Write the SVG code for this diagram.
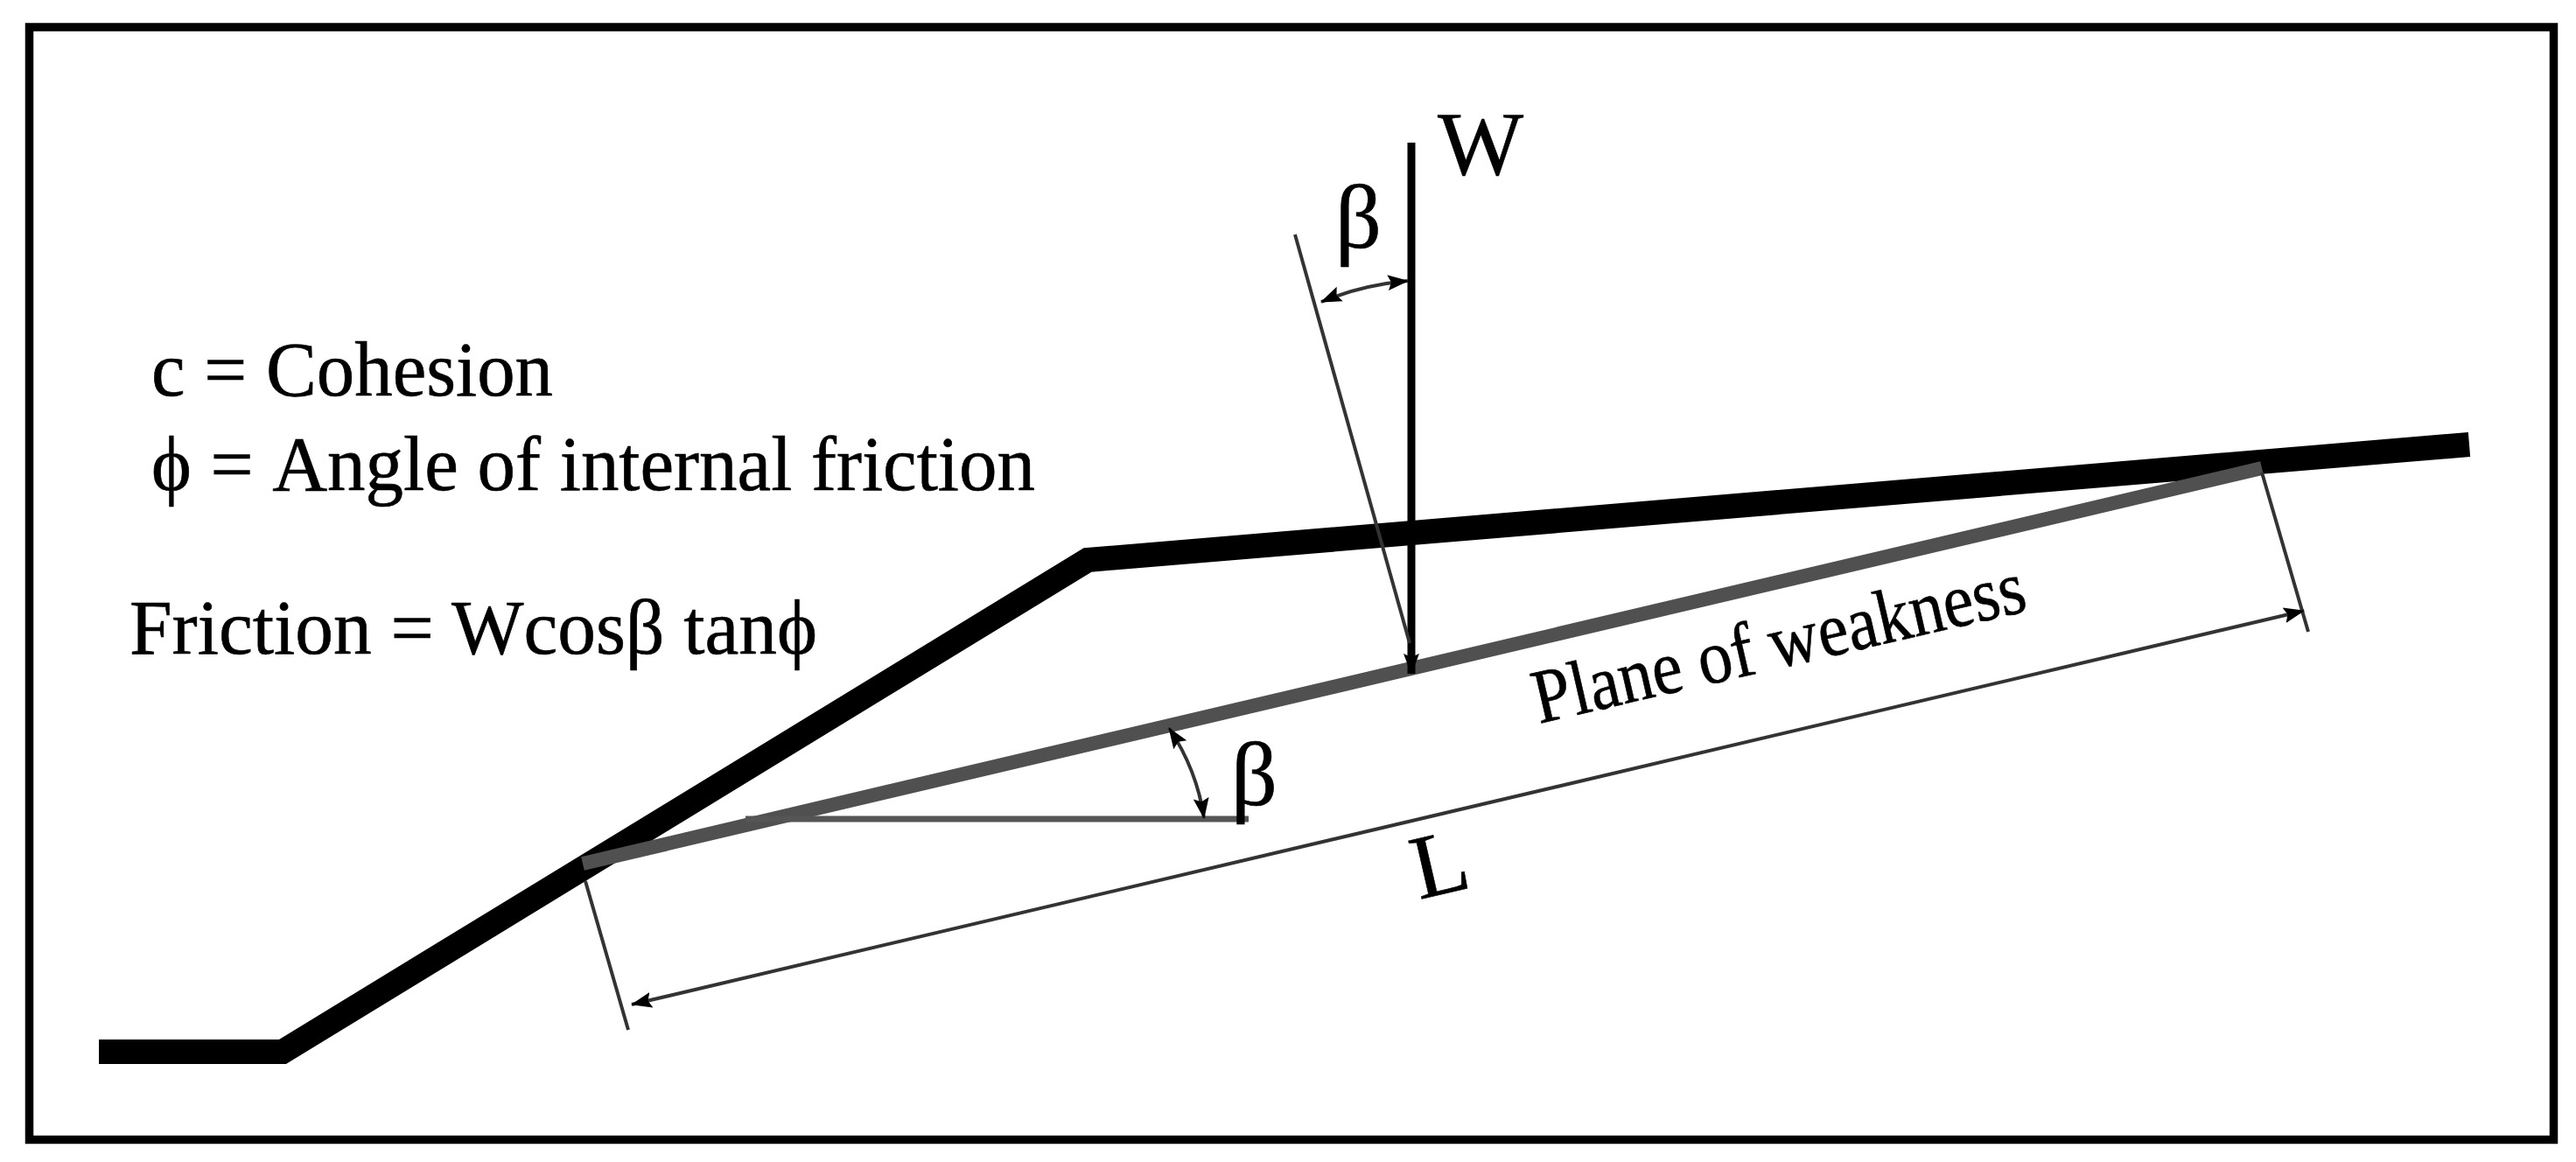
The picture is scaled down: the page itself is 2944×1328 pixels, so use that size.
<svg xmlns="http://www.w3.org/2000/svg" width="2944" height="1328" viewBox="0 0 2944 1328">
<style>
text{font-family:"Liberation Serif","Times New Roman",serif;fill:#000;stroke:#000;stroke-width:.6}
.lbl{font-size:88px}
.big{font-size:104px}
.thin{fill:none;stroke:#333;stroke-width:4}
</style>
<defs>
<marker id="ah" viewBox="0 0 24 20" refX="23" refY="10" markerWidth="24" markerHeight="20" markerUnits="userSpaceOnUse" orient="auto-start-reverse"><path d="M0 1L24 10L0 19L4 10Z" fill="#000"/></marker>
</defs>
<rect id="frame" x="33.5" y="31" width="2885" height="1271.5" fill="#fff" stroke="#000" stroke-width="9.5"/>
<g id="slope"><polyline points="113,1202 323,1202 1243,640 2822,508" fill="none" stroke="#000" stroke-width="28" stroke-linejoin="miter"/></g>
<g id="plane"><line x1="666" y1="987" x2="2585" y2="535" stroke="#505050" stroke-width="16"/></g>
<g id="connectors">
<line x1="852" y1="936" x2="1427" y2="936" stroke="#555" stroke-width="7"/>
<line x1="1613" y1="163" x2="1613" y2="770" stroke="#000" stroke-width="9" marker-end="url(#ah)"/>
<line class="thin" x1="1480" y1="268" x2="1611" y2="735" stroke="#444"/>
<path class="thin" d="M1510 345Q1555 326 1609 321" marker-start="url(#ah)" marker-end="url(#ah)"/>
<path class="thin" d="M1336 832Q1368 880 1376 935" marker-start="url(#ah)" marker-end="url(#ah)"/>
<line class="thin" x1="669" y1="1007" x2="718" y2="1177"/>
<line class="thin" x1="2585" y1="540" x2="2638" y2="722"/>
<line class="thin" x1="722" y1="1148" x2="2633" y2="698" marker-start="url(#ah)" marker-end="url(#ah)"/>
</g>
<g id="legend">
<text class="lbl" x="173" y="452" textLength="459" lengthAdjust="spacingAndGlyphs">c = Cohesion</text>
<text class="lbl" x="173" y="560" textLength="1010" lengthAdjust="spacingAndGlyphs">ϕ = Angle of internal friction</text>
<text class="lbl" x="148" y="747" textLength="786" lengthAdjust="spacingAndGlyphs">Friction = Wcosβ tanϕ</text>
</g>
<g id="label-W"><text class="big" x="1643" y="199">W</text></g>
<g id="label-beta-top"><text class="big" x="1526" y="283">β</text></g>
<g id="label-beta-low"><text class="big" x="1407" y="920">β</text></g>
<g id="label-L"><text class="big" transform="translate(1622 1028) rotate(-13)">L</text></g>
<g id="label-plane"><text class="lbl" transform="translate(1759 827) rotate(-13)" textLength="575" lengthAdjust="spacingAndGlyphs">Plane of weakness</text></g>
</svg>
